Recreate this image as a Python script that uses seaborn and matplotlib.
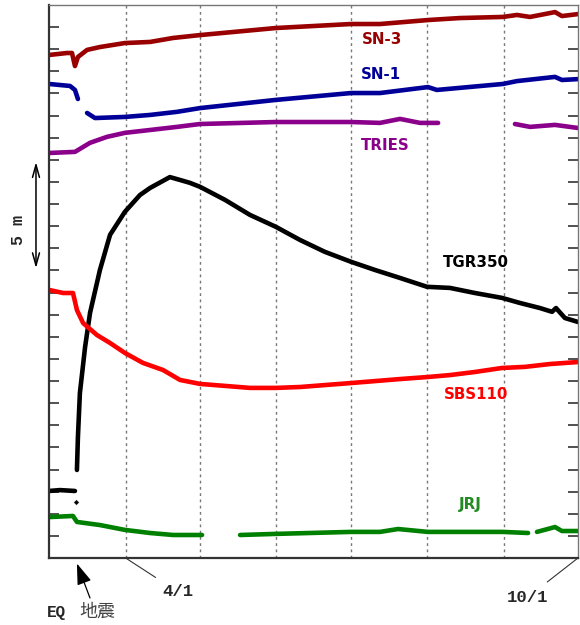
import numpy as np
import pandas as pd
import matplotlib
matplotlib.use("Agg")
import matplotlib.pyplot as plt
from matplotlib.transforms import blended_transform_factory
import seaborn as sns

# ---- data: x = days since 3/1, y = water level (m, relative) ----
nan = np.nan
sn3_day = [0, 7.3, 9.3, 10.5, 11.7, 15.4, 20.6, 30.7, 40.9, 50.2, 61.1, 91.8, 122.2, 133.9, 153.3, 166.2, 183.6, 189.3, 194.6, 204.7, 207.5, 214]
sn3_val = [22.74, 22.83, 22.83, 22.24, 22.65, 22.97, 23.10, 23.28, 23.33, 23.51, 23.64, 23.96, 24.14, 24.14, 24.32, 24.41, 24.46, 24.55, 24.46, 24.68, 24.50, 24.59]

sn1_day = [0, 8.5, 10.5, 11.7, 13.5, 15.4, 18.6, 30.7, 40.9, 51.8, 61.1, 91.8, 122.2, 133.9, 153.3, 156.9, 183.6, 189.3, 204.7, 207.5, 214]
sn1_val = [21.43, 21.34, 21.16, 20.75, nan, 20.12, 19.89, 19.94, 20.03, 20.17, 20.34, 20.71, 21.02, 21.02, 21.29, 21.16, 21.43, 21.56, 21.75, 21.61, 21.65]

tries_day = [0, 10.5, 16.6, 23.5, 30.7, 40.9, 51.8, 61.1, 91.8, 122.2, 133.9, 142.0, 150.1, 157.4, 170, 188.5, 194.6, 204.7, 214]
tries_val = [18.31, 18.36, 18.77, 19.04, 19.22, 19.35, 19.49, 19.62, 19.71, 19.71, 19.67, 19.85, 19.67, 19.67, nan, 19.62, 19.49, 19.58, 19.44]

tgr_day = [0, 4.4, 10.5, 10.9, 11.3, 11.7, 12.5, 14.6, 16.6, 20.6, 24.7, 30.7, 36.8, 40.9, 48.9, 53.0, 57.0, 61.1, 71.2, 81.3, 91.8, 101.5, 111.6, 122.2, 131.9, 142.0, 152.9, 162.2, 172.3, 183.2, 190.5, 198.6, 203.5, 205.1, 208.7, 214]
tgr_val = [3.03, 3.07, 3.03, nan, 3.98, 5.47, 7.46, 9.54, 11.08, 13.02, 14.61, 15.65, 16.41, 16.73, 17.22, 17.09, 16.96, 16.78, 16.19, 15.51, 14.97, 14.38, 13.84, 13.39, 13.02, 12.66, 12.26, 12.21, 11.98, 11.76, 11.53, 11.30, 11.13, 11.30, 10.85, 10.67]
tgr_dot_day = [10.9]
tgr_dot_val = [2.53]

sbs_day = [0, 5.7, 9.7, 11.3, 13.8, 19.4, 24.7, 30.7, 38.0, 46.1, 53.0, 61.1, 71.2, 81.3, 91.8, 101.5, 122.2, 142.0, 152.9, 162.2, 172.3, 183.2, 192.5, 202.7, 214]
sbs_val = [12.12, 11.98, 11.98, 11.21, 10.62, 10.08, 9.72, 9.27, 8.82, 8.50, 8.05, 7.87, 7.78, 7.69, 7.69, 7.73, 7.91, 8.09, 8.18, 8.27, 8.41, 8.59, 8.64, 8.77, 8.86]

jrj_day = [0, 9.7, 11.3, 20.6, 30.7, 40.9, 50.2, 61.9, 70, 77.3, 91.8, 122.2, 133.9, 141.2, 153.3, 183.6, 193.8, 195.5, 197.4, 204.7, 207.5, 214]
jrj_val = [1.85, 1.90, 1.63, 1.49, 1.27, 1.13, 1.04, 1.04, nan, 1.04, 1.09, 1.18, 1.18, 1.31, 1.18, 1.18, 1.13, nan, 1.18, 1.40, 1.22, 1.22]

names = ["SN-3", "SN-1", "TRIES", "TGR350", "SBS110", "JRJ"]
colors = ["#990000", "#000099", "#8B008B", "#000000", "#FF0000", "#008000"]
label_day = [134.7, 134.3, 135.9, 172.7, 172.7, 170.3]
label_val = [23.45, 21.88, 18.67, 13.36, 7.37, 2.40]
label_colors = ["#990000", "#000099", "#8B008B", "#000000", "#FF0000", "#228B22"]

month_days = [31, 61, 92, 122, 153, 184]
eq_day = 11.3

series = [(sn3_day, sn3_val), (sn1_day, sn1_val), (tries_day, tries_val),
          (tgr_day, tgr_val), (sbs_day, sbs_val), (jrj_day, jrj_val)]

rows = []
for name, (d, v) in zip(names, series):
    seg = 0
    for di, vi in zip(d, v):
        if np.isnan(vi):
            seg += 1
            continue
        rows.append({"series": name, "seg": f"{name}_{seg}", "day": di, "val": vi})
df = pd.DataFrame(rows)

sns.set_style("ticks")
plt.rcParams['font.family'] = ['DejaVu Sans']

W, H = 580, 625
fig = plt.figure(figsize=(W / 100, H / 100), dpi=100)
ax = fig.add_axes([49 / W, 67 / H, 529 / W, 553 / H])

for x in month_days:
    ax.axvline(x, color="#777777", lw=1.0, ls=(0, (2, 2.5)), zorder=0)

for name, col in zip(names, colors):
    sub = df[df.series == name]
    for seg, g in sub.groupby("seg"):
        sns.lineplot(data=g, x="day", y="val", color=col, lw=3.3, ax=ax,
                     estimator=None, sort=False, legend=False,
                     solid_capstyle="round", solid_joinstyle="round")

sns.scatterplot(x=tgr_dot_day, y=tgr_dot_val, color="black", marker="D", s=8, ax=ax, legend=False)

for name, d, v, c in zip(names, label_day, label_val, label_colors):
    ax.text(d, v, name, color=c, fontsize=10.8, fontweight="bold", ha="center", va="center",
            family="DejaVu Sans")

ax.set_xlim(0, 214)
ax.set_ylim(0, 25)
ax.set_yticks(np.arange(1, 25, 1))
ax.set_xticks([])
ax.set_xlabel("")
ax.set_ylabel("")
ax.tick_params(axis="y", which="both", direction="in", length=7, width=1.2,
               left=True, right=True, labelleft=False, labelright=False, color="#333333")
for s in ["left", "bottom"]:
    ax.spines[s].set_linewidth(1.6)
    ax.spines[s].set_color("#333333")
for s in ["top", "right"]:
    ax.spines[s].set_linewidth(1.0)
    ax.spines[s].set_color("#777777")
    ax.spines[s].set_visible(True)


def figpx(x, y_from_top):
    return (x, H - y_from_top)


# bottom annotations
ax.annotate("4/1", xy=(31, 0), xycoords="data", xytext=figpx(178, 592), textcoords="figure pixels",
            ha="center", va="center", fontsize=12.5, fontweight="bold", family="Liberation Mono",
            arrowprops=dict(arrowstyle="-", color="#333333", lw=0.8, shrinkA=5, shrinkB=1),
            annotation_clip=False)
ax.annotate("10/1", xy=(214, 0), xycoords="data", xytext=figpx(528, 597), textcoords="figure pixels",
            ha="center", va="center", fontsize=12.5, fontweight="bold", family="Liberation Mono",
            arrowprops=dict(arrowstyle="-", color="#333333", lw=0.8, shrinkA=5, shrinkB=1),
            annotation_clip=False)

ax.annotate("", xy=(eq_day, -0.25), xycoords="data", xytext=figpx(90, 598), textcoords="figure pixels",
            arrowprops=dict(arrowstyle="-|>,head_length=1.3,head_width=0.45", color="black", lw=0.9,
                            shrinkA=0, shrinkB=0),
            annotation_clip=False)
fig.text(66 / W, 1 - 612 / H, "EQ", fontsize=11.5, fontweight="bold", family="Liberation Mono",
         ha="right", va="center")
fig.text(79 / W, 1 - 612 / H, "地震", fontsize=13, family=["Noto Sans CJK TC", "DejaVu Sans"],
         ha="left", va="center", color="#444444")

# 5 m scale arrow
trans = blended_transform_factory(ax.transAxes, ax.transData)
ax.annotate("", xy=(-0.0246, 13.1), xycoords=trans, xytext=(-0.0246, 17.9), textcoords=trans,
            arrowprops=dict(arrowstyle="<->,head_length=0.9,head_width=0.25", color="black", lw=1.1,
                            shrinkA=0, shrinkB=0),
            annotation_clip=False)
ax.text(-0.0586, 14.83, "5 m", transform=trans, rotation=90, ha="center", va="center",
        fontsize=12, fontweight="bold", family="Liberation Mono")

fig.savefig("out.png", dpi=100)
